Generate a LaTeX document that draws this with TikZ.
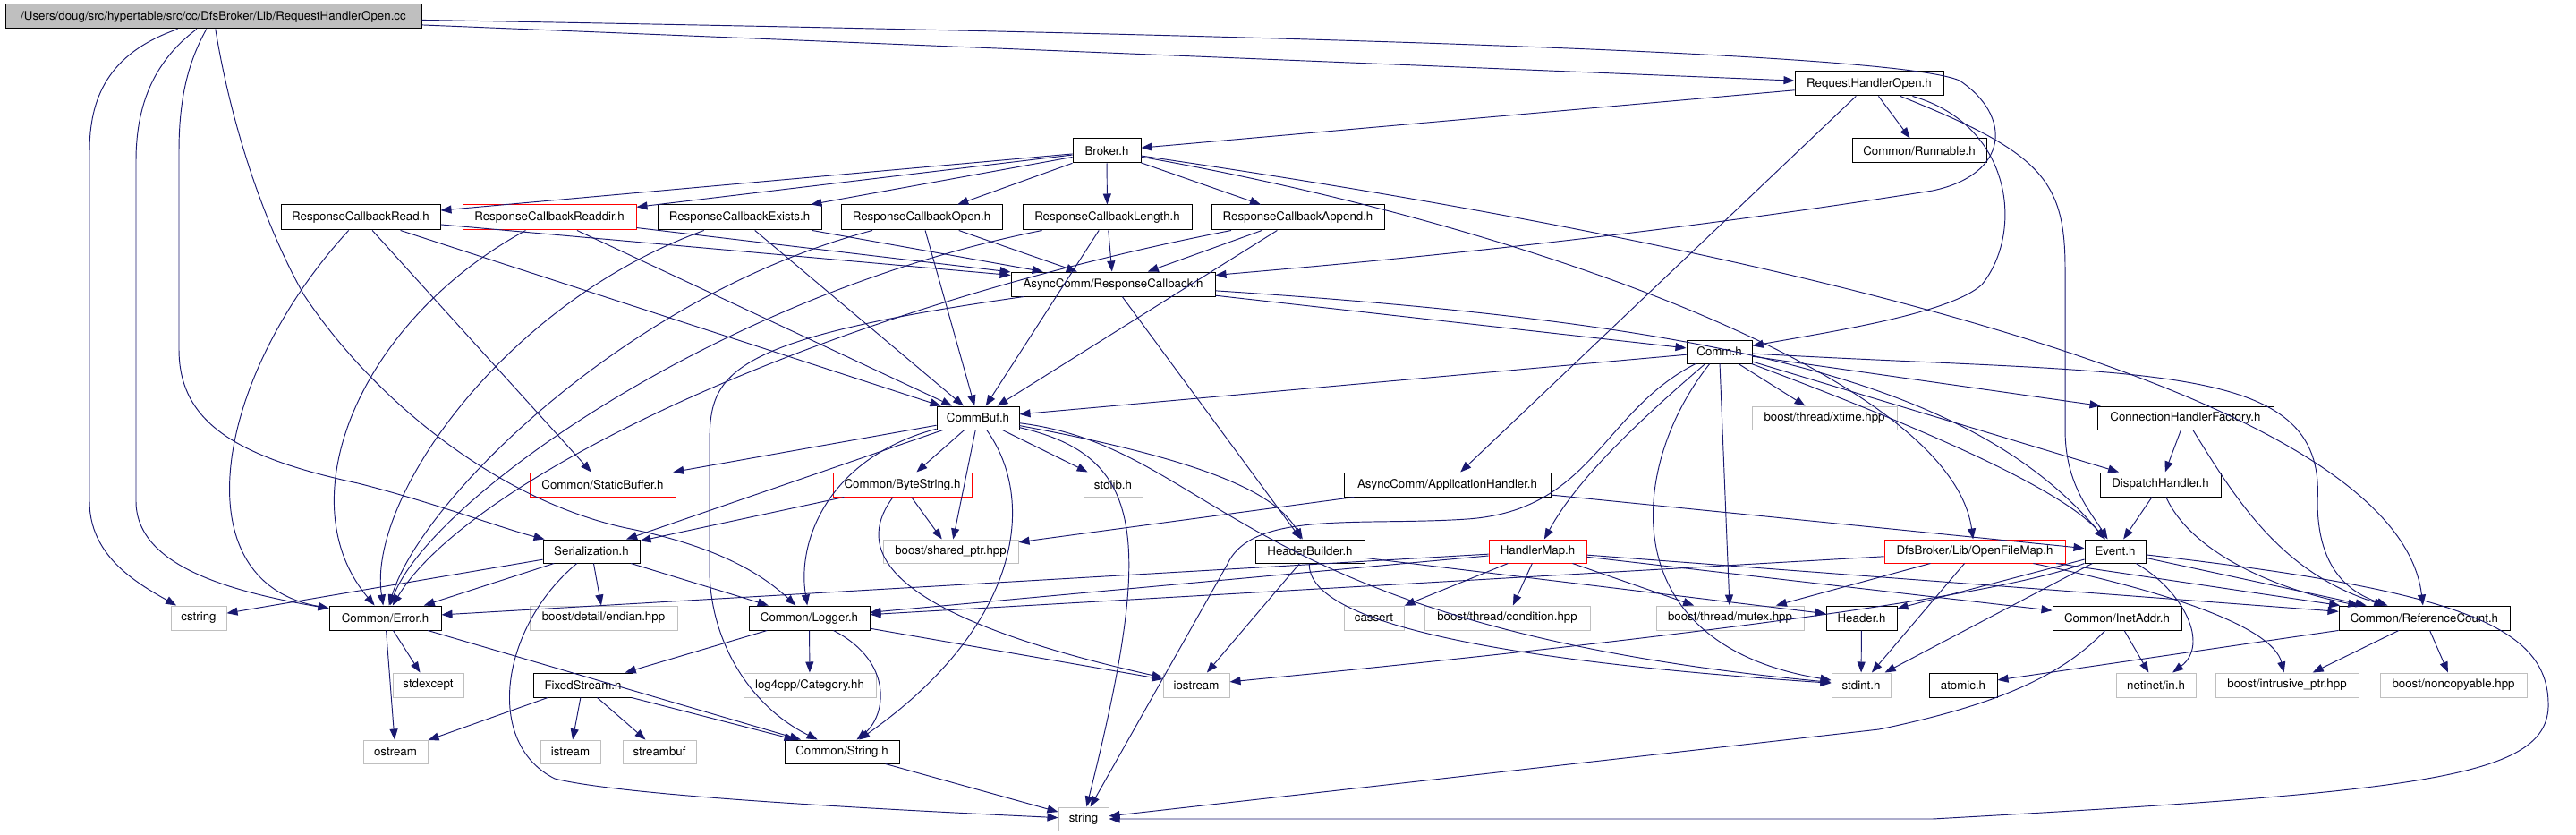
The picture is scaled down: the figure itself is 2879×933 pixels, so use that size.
\documentclass[tikz,border=0pt]{standalone}
\usepackage{fontspec}
\setmainfont{TeX Gyre Heros}
\usetikzlibrary{arrows.meta}
\definecolor{edgec}{HTML}{191970}
\definecolor{greyc}{HTML}{BFBFBF}
\newcommand\bx[7]{\node[#1,minimum width={(#5-#3)*1pt},minimum height={(#6-#4)*1pt}] (#2) at ({(#3+#5)/2},{(#4+#6)/2}) {#7};}
\begin{document}
\begin{tikzpicture}[x=1pt,y=-1pt,
  base/.style={rectangle,inner sep=0pt,font=\fontsize{13.3}{16}\selectfont,line width=1pt},
  docbox/.style={base,draw=black,fill=white},
  incbox/.style={base,draw=red,fill=white},
  extbox/.style={base,draw=greyc,fill=white},
  rootbox/.style={base,draw=black,fill=greyc},
  e/.style={draw=edgec,line width=0.95pt,-{Triangle[length=12pt,width=9pt]}}]
\useasboundingbox[fill=white] (0,0) rectangle (2879,933);
% nodes
\bx{rootbox}{root}{6}{5}{471}{32}{/Users/doug/src/hypertable/src/cc/DfsBroker/Lib/RequestHandlerOpen.cc}
\bx{docbox}{RHO}{2006}{80}{2172}{107}{RequestHandlerOpen.h}
\bx{docbox}{Broker}{1199}{155}{1275}{182}{Broker.h}
\bx{docbox}{Runnable}{2070}{155}{2220}{182}{Common/Runnable.h}
\bx{docbox}{RCRead}{314}{229}{492}{257}{ResponseCallbackRead.h}
\bx{incbox}{RCReaddir}{517}{229}{711}{257}{ResponseCallbackReaddir.h}
\bx{docbox}{RCExists}{735}{229}{918}{257}{ResponseCallbackExists.h}
\bx{docbox}{RCOpen}{940}{229}{1120}{257}{ResponseCallbackOpen.h}
\bx{docbox}{RCLength}{1143}{229}{1332}{257}{ResponseCallbackLength.h}
\bx{docbox}{RCAppend}{1354}{229}{1547}{257}{ResponseCallbackAppend.h}
\bx{docbox}{AsyncRC}{1130}{304}{1358}{331}{AsyncComm/ResponseCallback.h}
\bx{docbox}{Comm}{1885}{380}{1958}{406}{Comm.h}
\bx{docbox}{CommBuf}{1047}{454}{1139}{480}{CommBuf.h}
\bx{extbox}{xtime}{1958}{454}{2120}{480}{boost/thread/xtime.hpp}
\bx{docbox}{ConnHF}{2344}{454}{2541}{480}{ConnectionHandlerFactory.h}
\bx{incbox}{StaticBuffer}{592}{528}{755}{555}{Common/StaticBuffer.h}
\bx{incbox}{ByteString}{931}{528}{1086}{555}{Common/ByteString.h}
\bx{extbox}{stdlib}{1211}{528}{1277}{555}{stdlib.h}
\bx{docbox}{AppHandler}{1502}{528}{1733}{555}{AsyncComm/ApplicationHandler.h}
\bx{docbox}{DispatchHandler}{2347}{528}{2482}{555}{DispatchHandler.h}
\bx{docbox}{Serialization}{607}{603}{715}{629}{Serialization.h}
\bx{extbox}{sharedptr}{987}{603}{1138}{629}{boost/shared\_ptr.hpp}
\bx{docbox}{HeaderBuilder}{1403}{603}{1525}{629}{HeaderBuilder.h}
\bx{incbox}{HandlerMap}{1664}{603}{1773}{629}{HandlerMap.h}
\bx{incbox}{OpenFileMap}{2106}{603}{2308}{629}{DfsBroker/Lib/OpenFileMap.h}
\bx{docbox}{Event}{2330}{603}{2398}{629}{Event.h}
\bx{extbox}{cstring}{191}{677}{253}{704}{cstring}
\bx{docbox}{Error}{368}{677}{493}{704}{Common/Error.h}
\bx{extbox}{endian}{592}{677}{757}{704}{boost/detail/endian.hpp}
\bx{docbox}{Logger}{837}{677}{972}{704}{Common/Logger.h}
\bx{extbox}{cassert}{1502}{677}{1569}{704}{cassert}
\bx{extbox}{condition}{1592}{677}{1777}{704}{boost/thread/condition.hpp}
\bx{extbox}{mutex}{1851}{677}{2016}{704}{boost/thread/mutex.hpp}
\bx{docbox}{Header}{2041}{677}{2120}{704}{Header.h}
\bx{docbox}{InetAddr}{2294}{677}{2438}{704}{Common/InetAddr.h}
\bx{docbox}{RefCount}{2614}{677}{2805}{704}{Common/ReferenceCount.h}
\bx{extbox}{stdexcept}{439}{752}{518}{779}{stdexcept}
\bx{docbox}{FixedStream}{596}{752}{707}{779}{FixedStream.h}
\bx{extbox}{log4cpp}{831}{752}{979}{779}{log4cpp/Category.hh}
\bx{extbox}{iostream}{1300}{752}{1374}{779}{iostream}
\bx{extbox}{stdint}{2047}{752}{2113}{779}{stdint.h}
\bx{docbox}{atomic}{2156}{752}{2232}{779}{atomic.h}
\bx{extbox}{netinet}{2365}{752}{2454}{779}{netinet/in.h}
\bx{extbox}{intrusive}{2476}{752}{2636}{779}{boost/intrusive\_ptr.hpp}
\bx{extbox}{noncopyable}{2660}{752}{2824}{779}{boost/noncopyable.hpp}
\bx{extbox}{ostream}{406}{827}{478}{853}{ostream}
\bx{extbox}{istream}{604}{827}{671}{853}{istream}
\bx{extbox}{streambuf}{696}{827}{778}{853}{streambuf}
\bx{docbox}{String}{877}{827}{1005}{853}{Common/String.h}
\bx{extbox}{string}{1183}{902}{1239}{928}{string}
% edges from root
\draw[e] (root) -- (RHO);
\draw[e] (root) .. controls (1500,40) and (2120,60) .. (2190,90) .. controls (2250,130) and (2245,195) .. (2160,213) .. controls (1800,270) and (1500,295) .. (AsyncRC);
\draw[e] (root) .. controls (120,60) and (100,110) .. (100,170) -- (100,560) .. controls (100,620) and (150,650) .. (cstring);
\draw[e] (root) .. controls (170,70) and (152,120) .. (152,180) -- (152,560) .. controls (152,630) and (250,660) .. (Error);
\draw[e] (root) .. controls (210,70) and (200,110) .. (200,170) -- (200,390) .. controls (200,470) and (260,510) .. (400,540) .. controls (480,560) and (560,590) .. (Serialization);
\draw[e] (root) .. controls (260,150) and (300,260) .. (340,330) .. controls (420,450) and (560,560) .. (700,590) .. controls (800,610) and (850,640) .. (Logger);
% RequestHandlerOpen.h
\draw[e] (RHO) -- (Broker);
\draw[e] (RHO) -- (Runnable);
\draw[e] (RHO) -- (AppHandler);
\draw[e] (RHO) .. controls (2250,140) and (2262,260) .. (2215,318) .. controls (2180,350) and (2050,370) .. (Comm);
\draw[e] (RHO) .. controls (2280,170) and (2308,200) .. (2308,300) -- (2308,480) .. controls (2308,540) and (2335,570) .. (Event);
% Broker.h
\draw[e] (Broker) -- (RCRead);
\draw[e] (Broker) -- (RCReaddir);
\draw[e] (Broker) -- (RCExists);
\draw[e] (Broker) -- (RCOpen);
\draw[e] (Broker) -- (RCLength);
\draw[e] (Broker) -- (RCAppend);
\draw[e] (Broker) .. controls (1700,250) and (2180,420) .. (OpenFileMap);
\draw[e] (Broker) .. controls (2000,280) and (2680,440) .. (RefCount);
% ResponseCallback*.h
\foreach \r in {RCRead,RCReaddir,RCExists,RCOpen,RCLength,RCAppend}{
  \draw[e] (\r) -- (AsyncRC);
  \draw[e] (\r) -- (CommBuf);
}
\draw[e] (RCRead) .. controls (240,420) and (200,650) .. (Error);
\draw[e] (RCReaddir) .. controls (400,360) and (320,560) .. (Error);
\draw[e] (RCExists) .. controls (560,340) and (410,560) .. (Error);
\draw[e] (RCOpen) .. controls (700,330) and (470,560) .. (Error);
\draw[e] (RCLength) .. controls (800,330) and (480,560) .. (Error);
\draw[e] (RCAppend) .. controls (900,350) and (520,540) .. (Error);
\draw[e] (RCRead) -- (StaticBuffer);
% AsyncComm/ResponseCallback.h
\draw[e] (AsyncRC) -- (Comm);
\draw[e] (AsyncRC) .. controls (1900,360) and (2200,420) .. (Event);
\draw[e] (AsyncRC) -- (HeaderBuilder);
\draw[e] (AsyncRC) .. controls (800,380) and (793,420) .. (793,500) -- (793,640) .. controls (795,720) and (840,790) .. (String);
% Comm.h
\draw[e] (Comm) -- (CommBuf);
\draw[e] (Comm) -- (xtime);
\draw[e] (Comm) -- (ConnHF);
\draw[e] (Comm) -- (DispatchHandler);
\draw[e] (Comm) .. controls (2100,460) and (2300,540) .. (Event);
\draw[e] (Comm) .. controls (2400,420) and (2600,400) .. (2590,560) .. controls (2590,630) and (2620,660) .. (RefCount);
\draw[e] (Comm) .. controls (1820,480) and (1760,540) .. (HandlerMap);
\draw[e] (Comm) .. controls (1790,460) and (1780,570) .. (1640,580) .. controls (1520,588) and (1400,570) .. (1372,630) -- (string);
\draw[e] (Comm) .. controls (1820,520) and (1800,720) .. (stdint);
\draw[e] (Comm) -- (mutex);
% CommBuf.h
\draw[e] (CommBuf) -- (StaticBuffer);
\draw[e] (CommBuf) -- (ByteString);
\draw[e] (CommBuf) -- (stdlib);
\draw[e] (CommBuf) -- (sharedptr);
\draw[e] (CommBuf) -- (Serialization);
\draw[e] (CommBuf) .. controls (930,510) and (890,600) .. (Logger);
\draw[e] (CommBuf) .. controls (1160,560) and (1140,700) .. (String);
\draw[e] (CommBuf) .. controls (1280,510) and (1290,600) .. (string);
\draw[e] (CommBuf) .. controls (1380,520) and (1430,560) .. (HeaderBuilder);
\draw[e] (CommBuf) .. controls (1360,500) and (1380,700) .. (stdint);
% ByteString.h
\draw[e] (ByteString) -- (Serialization);
\draw[e] (ByteString) -- (sharedptr);
\draw[e] (ByteString) .. controls (950,620) and (1000,690) .. (iostream);
% ApplicationHandler.h
\draw[e] (AppHandler) -- (sharedptr);
\draw[e] (AppHandler) -- (Event);
% ConnectionHandlerFactory.h / DispatchHandler.h
\draw[e] (ConnHF) -- (DispatchHandler);
\draw[e] (ConnHF) .. controls (2500,560) and (2550,640) .. (RefCount);
\draw[e] (DispatchHandler) -- (Event);
\draw[e] (DispatchHandler) .. controls (2450,620) and (2550,660) .. (RefCount);
% Serialization.h
\draw[e] (Serialization) -- (cstring);
\draw[e] (Serialization) -- (Error);
\draw[e] (Serialization) -- (endian);
\draw[e] (Serialization) -- (Logger);
\draw[e] (Serialization) .. controls (560,700) and (540,830) .. (620,870) .. controls (700,890) and (1000,905) .. (string);
% Error.h, Logger.h, FixedStream.h, String.h
\draw[e] (Error) -- (stdexcept);
\draw[e] (Error) -- (ostream);
\draw[e] (Error) -- (String);
\draw[e] (Logger) -- (FixedStream);
\draw[e] (Logger) -- (log4cpp);
\draw[e] (Logger) .. controls (1000,740) and (990,800) .. (String);
\draw[e] (Logger) -- (iostream);
\draw[e] (FixedStream) -- (ostream);
\draw[e] (FixedStream) -- (istream);
\draw[e] (FixedStream) -- (streambuf);
\draw[e] (FixedStream) -- (String);
\draw[e] (String) -- (string);
% HeaderBuilder.h
\draw[e] (HeaderBuilder) -- (iostream);
\draw[e] (HeaderBuilder) -- (Header);
\draw[e] (HeaderBuilder) .. controls (1460,700) and (1700,740) .. (stdint);
% HandlerMap.h
\draw[e] (HandlerMap) -- (cassert);
\draw[e] (HandlerMap) -- (condition);
\draw[e] (HandlerMap) -- (mutex);
\draw[e] (HandlerMap) -- (Error);
\draw[e] (HandlerMap) -- (Logger);
\draw[e] (HandlerMap) -- (RefCount);
\draw[e] (HandlerMap) -- (InetAddr);
% OpenFileMap.h
\draw[e] (OpenFileMap) -- (Logger);
\draw[e] (OpenFileMap) -- (mutex);
\draw[e] (OpenFileMap) -- (stdint);
\draw[e] (OpenFileMap) -- (RefCount);
\draw[e] (OpenFileMap) .. controls (2420,660) and (2540,700) .. (intrusive);
% Event.h
\draw[e] (Event) -- (Header);
\draw[e] (Event) -- (stdint);
\draw[e] (Event) -- (RefCount);
\draw[e] (Event) .. controls (2440,660) and (2470,720) .. (netinet);
\draw[e] (Event) .. controls (2200,680) and (1600,740) .. (iostream);
\draw[e] (Event) .. controls (2750,660) and (2850,700) .. (2848,790) .. controls (2845,870) and (2700,885) .. (2160,915) -- (string);
% others
\draw[e] (Header) -- (stdint);
\draw[e] (InetAddr) -- (netinet);
\draw[e] (InetAddr) .. controls (2300,760) and (2220,790) .. (2100,815) -- (string);
\draw[e] (RefCount) -- (atomic);
\draw[e] (RefCount) -- (intrusive);
\draw[e] (RefCount) -- (noncopyable);
\end{tikzpicture}
\end{document}
